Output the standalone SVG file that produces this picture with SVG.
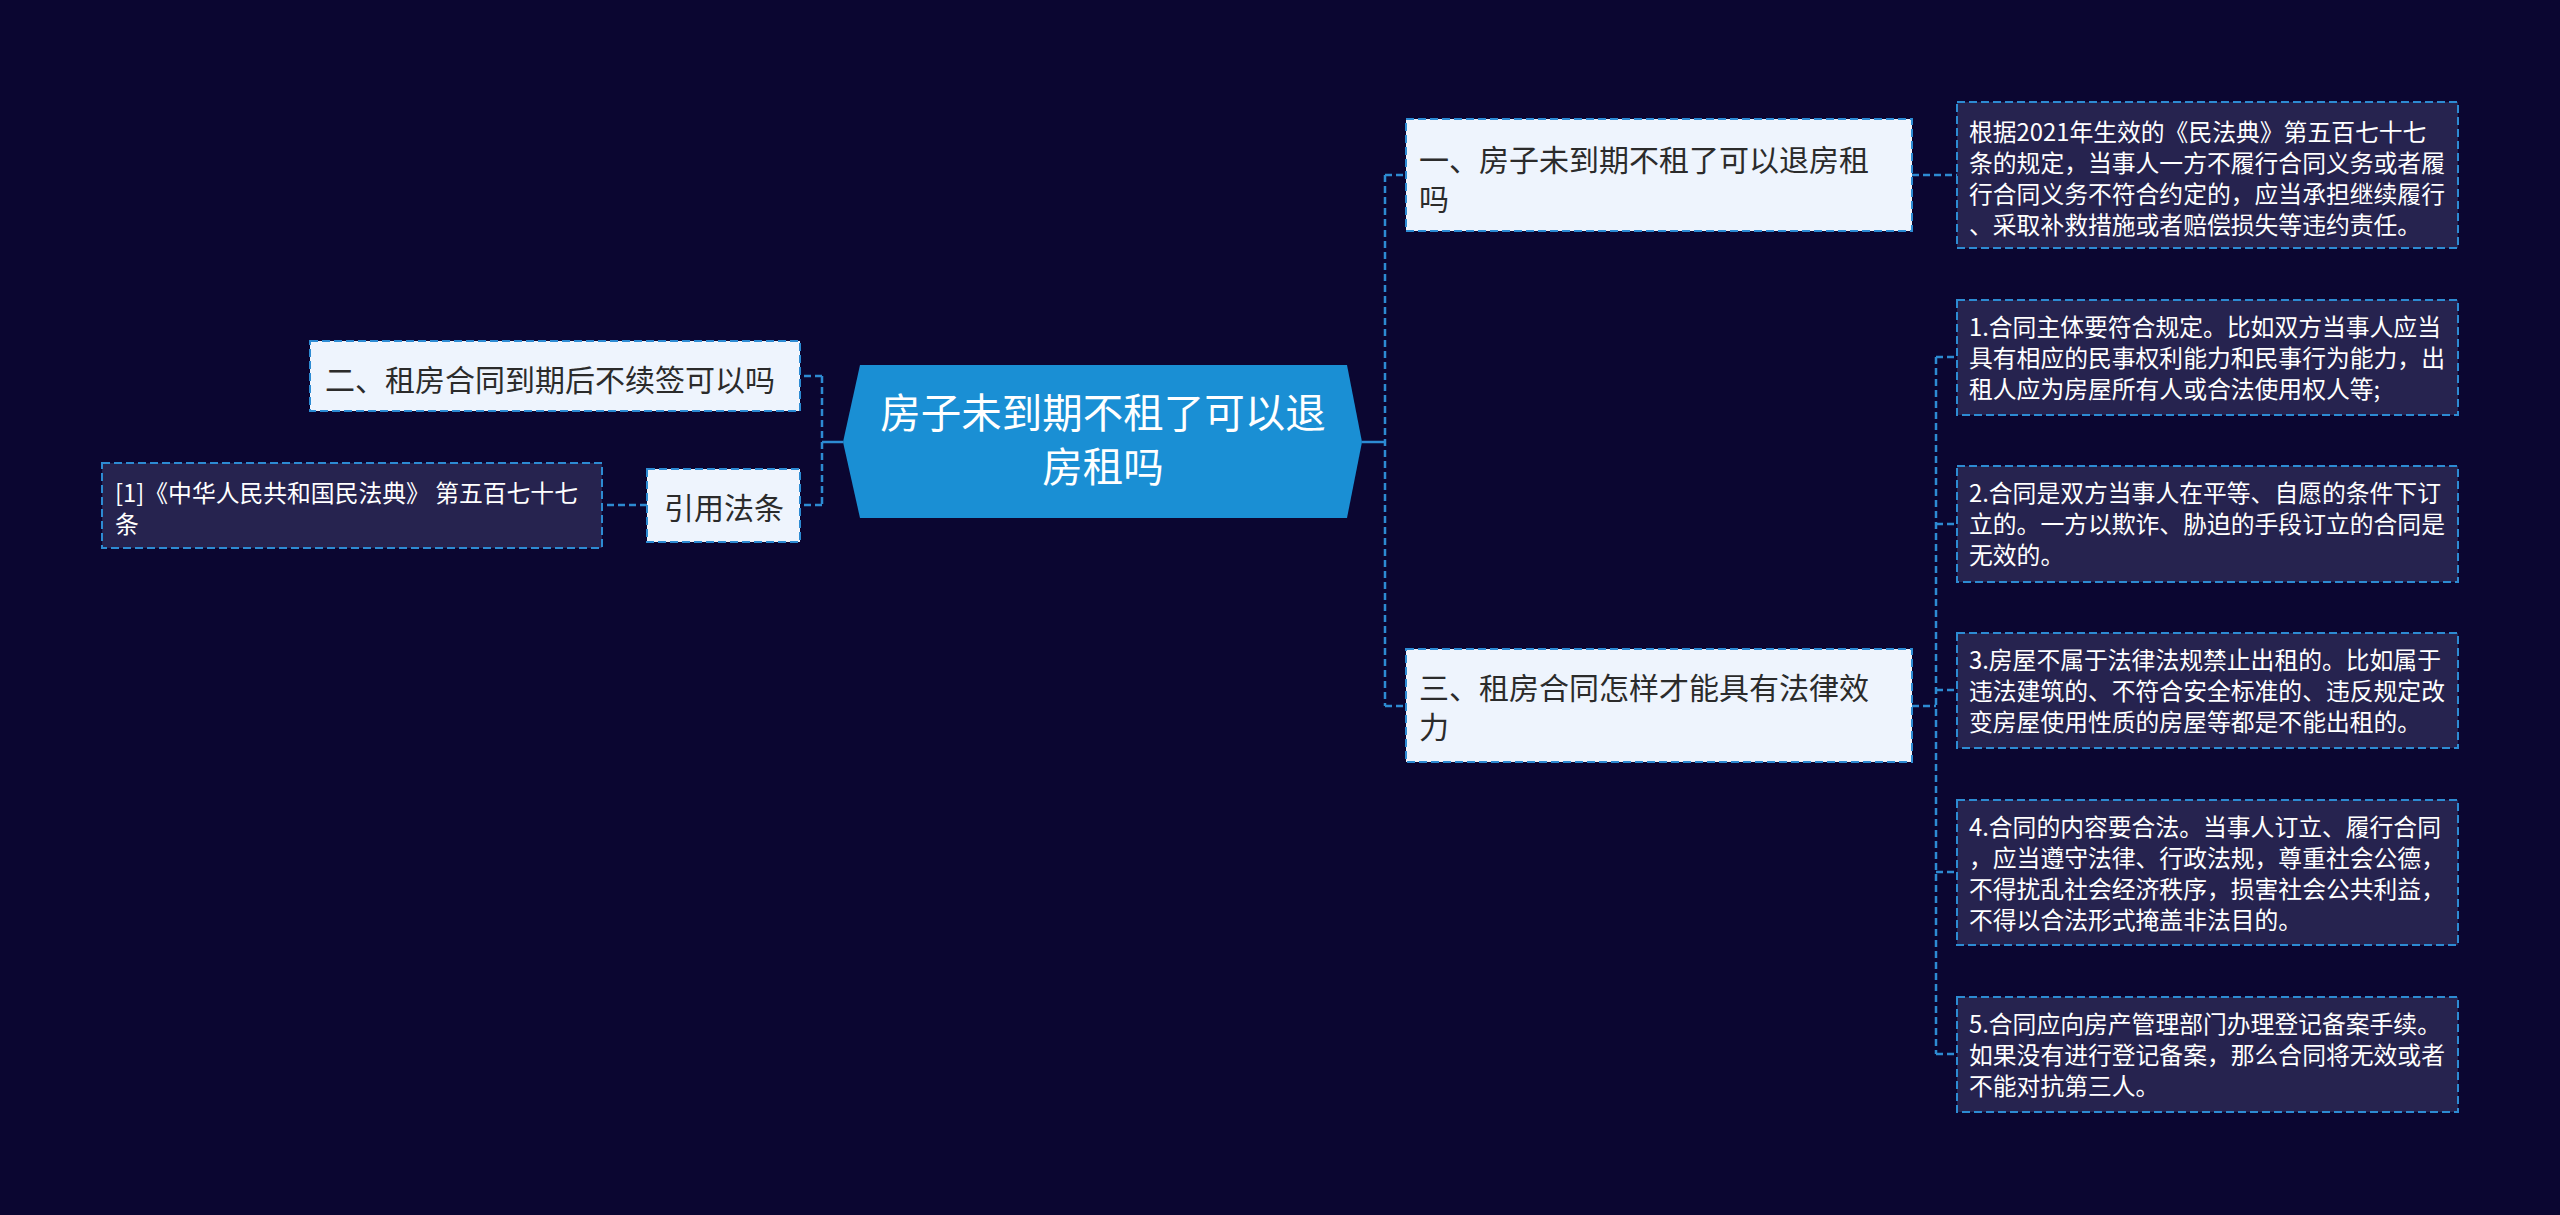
<svg xmlns="http://www.w3.org/2000/svg" width="2560" height="1215" viewBox="0 0 2560 1215">
<style>
.bg{fill:#0b0631}
.root{fill:#1a8fd4}
.rtxt{font-family:"Noto Sans CJK SC","Noto Sans",sans-serif;font-size:40.5px;fill:#ffffff;text-anchor:middle}
.br{fill:#eef4fd;stroke:#2d8bd3;stroke-width:2;stroke-dasharray:8 4}
.btxt{font-family:"Noto Sans CJK SC","Noto Sans",sans-serif;font-size:30px;fill:#2b2b2b}
.dt{fill:#26234f;stroke:#2d8bd3;stroke-width:2;stroke-dasharray:8 4}
.dtxt{font-family:"Noto Sans CJK SC","Noto Sans",sans-serif;font-size:23.8px;fill:#ffffff}
.c{fill:none;stroke:#2d8bd3;stroke-width:2.5;stroke-dasharray:7 4}
.cs{fill:none;stroke:#2d8bd3;stroke-width:2.5}
</style>
<rect class="bg" x="0" y="0" width="2560" height="1215"/>
<g id="connectors">
<path class="cs" d="M843 442H822"/>
<path class="c" d="M822 376V505"/>
<path class="c" d="M822 376H800"/>
<path class="c" d="M822 505H800"/>
<path class="c" d="M647 505H602"/>
<path class="cs" d="M1362 442H1385"/>
<path class="c" d="M1385 175V706"/>
<path class="c" d="M1385 175H1406"/>
<path class="c" d="M1385 706H1406"/>
<path class="c" d="M1912 175H1957"/>
<path class="c" d="M1912 706H1936"/>
<path class="c" d="M1936 357V1054"/>
<path class="c" d="M1936 357H1957"/>
<path class="c" d="M1936 524H1957"/>
<path class="c" d="M1936 690H1957"/>
<path class="c" d="M1936 872H1957"/>
<path class="c" d="M1936 1054H1957"/>
</g>
<g id="root">
<polygon class="root" points="843,442 860,365 1347,365 1362,442 1347,518 860,518"/>
<text class="rtxt" x="1103" y="428">房子未到期不租了可以退</text>
<text class="rtxt" x="1103" y="482">房租吗</text>
</g>
<g id="b1">
<rect class="br" x="1406" y="119" width="506" height="112"/>
<text class="btxt" x="1419" y="171">一、房子未到期不租了可以退房租</text>
<text class="btxt" x="1419" y="210">吗</text>
</g>
<g id="b1d">
<rect class="dt" x="1957" y="102" width="501" height="146"/>
<text class="dtxt" x="1969" y="141">根据2021年生效的《民法典》第五百七十七</text>
<text class="dtxt" x="1969" y="172">条的规定，当事人一方不履行合同义务或者履</text>
<text class="dtxt" x="1969" y="203">行合同义务不符合约定的，应当承担继续履行</text>
<text class="dtxt" x="1969" y="234">、采取补救措施或者赔偿损失等违约责任。</text>
</g>
<g id="b2">
<rect class="br" x="310" y="341" width="490" height="70"/>
<text class="btxt" x="325" y="391">二、租房合同到期后不续签可以吗</text>
</g>
<g id="b4">
<rect class="br" x="647" y="469" width="153" height="73"/>
<text class="btxt" x="664" y="519">引用法条</text>
</g>
<g id="b4d">
<rect class="dt" x="102" y="463" width="500" height="85"/>
<text class="dtxt" x="115" y="502">[1]《中华人民共和国民法典》 第五百七十七</text>
<text class="dtxt" x="115" y="533">条</text>
</g>
<g id="b3">
<rect class="br" x="1406" y="649" width="506" height="113"/>
<text class="btxt" x="1419" y="699">三、租房合同怎样才能具有法律效</text>
<text class="btxt" x="1419" y="738">力</text>
</g>
<g id="d1">
<rect class="dt" x="1957" y="300" width="501" height="115"/>
<text class="dtxt" x="1969" y="336">1.合同主体要符合规定。比如双方当事人应当</text>
<text class="dtxt" x="1969" y="367">具有相应的民事权利能力和民事行为能力，出</text>
<text class="dtxt" x="1969" y="398">租人应为房屋所有人或合法使用权人等;</text>
</g>
<g id="d2">
<rect class="dt" x="1957" y="466" width="501" height="116"/>
<text class="dtxt" x="1969" y="502">2.合同是双方当事人在平等、自愿的条件下订</text>
<text class="dtxt" x="1969" y="533">立的。一方以欺诈、胁迫的手段订立的合同是</text>
<text class="dtxt" x="1969" y="564">无效的。</text>
</g>
<g id="d3">
<rect class="dt" x="1957" y="633" width="501" height="115"/>
<text class="dtxt" x="1969" y="669">3.房屋不属于法律法规禁止出租的。比如属于</text>
<text class="dtxt" x="1969" y="700">违法建筑的、不符合安全标准的、违反规定改</text>
<text class="dtxt" x="1969" y="731">变房屋使用性质的房屋等都是不能出租的。</text>
</g>
<g id="d4">
<rect class="dt" x="1957" y="800" width="501" height="145"/>
<text class="dtxt" x="1969" y="836">4.合同的内容要合法。当事人订立、履行合同</text>
<text class="dtxt" x="1969" y="867">，应当遵守法律、行政法规，尊重社会公德，</text>
<text class="dtxt" x="1969" y="898">不得扰乱社会经济秩序，损害社会公共利益，</text>
<text class="dtxt" x="1969" y="929">不得以合法形式掩盖非法目的。</text>
</g>
<g id="d5">
<rect class="dt" x="1957" y="997" width="501" height="115"/>
<text class="dtxt" x="1969" y="1033">5.合同应向房产管理部门办理登记备案手续。</text>
<text class="dtxt" x="1969" y="1064">如果没有进行登记备案，那么合同将无效或者</text>
<text class="dtxt" x="1969" y="1095">不能对抗第三人。</text>
</g>
</svg>
